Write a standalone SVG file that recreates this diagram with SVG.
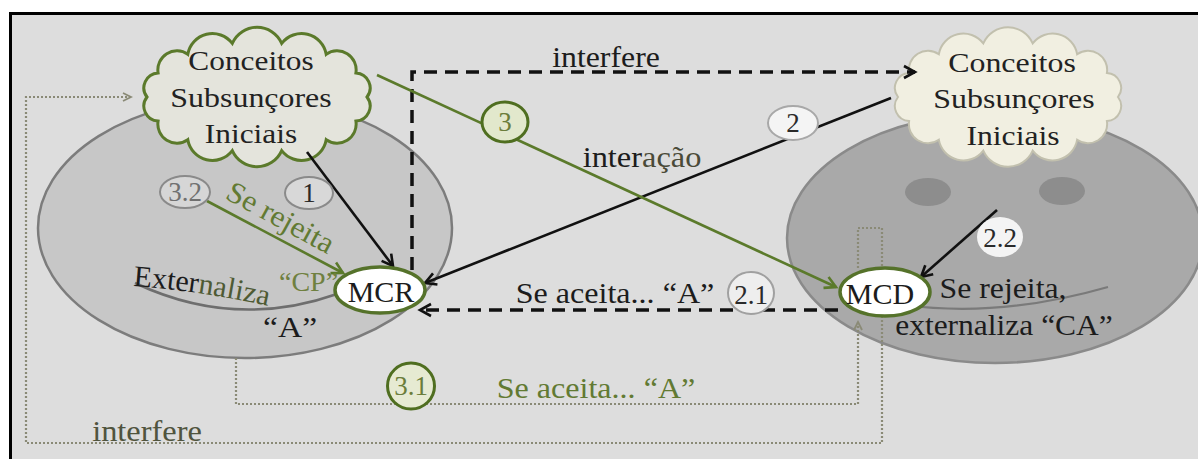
<svg xmlns="http://www.w3.org/2000/svg" width="1198" height="459" viewBox="0 0 1198 459">
<style>
.t { font-size: 30px; fill: #1c1c1c; }
.tc { font-size: 28px; fill: #222222; text-anchor: middle; }
.tg { font-size: 30px; fill: #627a33; }
.tn { font-size: 27px; fill: #2a2a2a; text-anchor: middle; }
.mid { text-anchor: middle; }
.dash { fill: none; stroke: #111111; stroke-width: 3.5; stroke-dasharray: 13 8; }
.solid { fill: none; stroke: #111111; stroke-width: 2.6; }
.green { fill: none; stroke: #5b7a2b; stroke-width: 2.6; }
.dot { fill: none; stroke: #8a8a76; stroke-width: 2.2; stroke-dasharray: 2 2; }
.badge-g { fill: #e2e8cc; stroke: #4f6e20; stroke-width: 3; }
.badge-w { fill: #eeeeee; stroke: #a0a0a0; stroke-width: 2; }
.node { fill: #ffffff; stroke: #55722a; stroke-width: 3.5; }
</style>
<defs>
  <path id="cloud" d="M110,0 A15,15 0 0 1 98.9,24.1 A19,19 0 0 1 69.2,42.7 A25,25 0 0 1 24.7,53.6 A27,27 0 0 1 -24.7,53.6 A25,25 0 0 1 -69.2,42.7 A19,19 0 0 1 -98.9,24.1 A15,15 0 0 1 -110,0 A15,15 0 0 1 -98.9,-24.1 A19,19 0 0 1 -69.2,-42.7 A25,25 0 0 1 -24.7,-53.6 A27,27 0 0 1 24.7,-53.6 A25,25 0 0 1 69.2,-42.7 A19,19 0 0 1 98.9,-24.1 A15,15 0 0 1 110,0 Z"/>
  <marker id="mBlack" markerUnits="userSpaceOnUse" markerWidth="16" markerHeight="16" refX="13" refY="8" orient="auto">
    <path d="M2,2 L13,8 L2,14" fill="none" stroke="#111111" stroke-width="2.6"/>
  </marker>
  <marker id="mGreen" markerUnits="userSpaceOnUse" markerWidth="16" markerHeight="16" refX="13" refY="8" orient="auto">
    <path d="M2,2 L13,8 L2,14" fill="none" stroke="#5b7a2b" stroke-width="2.6"/>
  </marker>
  <marker id="mDot" markerUnits="userSpaceOnUse" markerWidth="12" markerHeight="12" refX="10" refY="6" orient="auto">
    <path d="M2,2 L10,6 L2,10" fill="none" stroke="#8a8a76" stroke-width="1.8"/>
  </marker>
  <path id="extPath" d="M133,286 Q203,291 278,308"/>
</defs>

<rect x="0" y="0" width="1198" height="459" fill="#ffffff"/>
<rect x="10.5" y="13.5" width="1200" height="460" fill="#dddddd" stroke="#000000" stroke-width="3"/>

<g id="ellipse-left">
  <ellipse cx="245" cy="228" rx="207" ry="130" fill="#c7c7c7" stroke="#7c7c7c" stroke-width="2.5"/>
  <path d="M135,283 Q235,330 337,294" fill="none" stroke="#6e6e6e" stroke-width="2.5"/>
</g>

<g id="ellipse-right">
  <ellipse cx="995" cy="238" rx="208" ry="125" fill="#a9a9a9" stroke="#8a8a8a" stroke-width="2.5"/>
  <ellipse cx="928" cy="192" rx="23" ry="14" fill="#8d8d8d"/>
  <ellipse cx="1062" cy="191" rx="23" ry="14" fill="#8d8d8d"/>
  <path d="M905,305 Q1000,318 1108,287" fill="none" stroke="#7a7a7a" stroke-width="2.2"/>
</g>

<g id="connectors-dotted">
  <path class="dot" d="M858,268 V228 H882 V443 H26 V97 H131" marker-end="url(#mDot)"/>
  <path class="dot" d="M236,358 V404 H858 V322" marker-end="url(#mDot)"/>
</g>

<g id="cloud-left">
  <use href="#cloud" transform="translate(257,97)" fill="#e4e4dc" stroke="#5b7a2b" stroke-width="3"/>
  <text font-family="Liberation Serif" class="tc" transform="translate(251,70) scale(1.12,1)">Conceitos</text>
  <text font-family="Liberation Serif" class="tc" transform="translate(251,107) scale(1.14,1)">Subsunçores</text>
  <text font-family="Liberation Serif" class="tc" transform="translate(251,143) scale(1.12,1)">Iniciais</text>
</g>

<g id="cloud-right">
  <use href="#cloud" transform="translate(1008,97)" fill="#f1efe1" stroke="#c2c0ae" stroke-width="2"/>
  <text font-family="Liberation Serif" class="tc" transform="translate(1012,72) scale(1.14,1)">Conceitos</text>
  <text font-family="Liberation Serif" class="tc" transform="translate(1014,108) scale(1.14,1)">Subsunçores</text>
  <text font-family="Liberation Serif" class="tc" transform="translate(1013,145) scale(1.13,1)">Iniciais</text>
</g>

<g id="connectors">
  <path class="dash" d="M412,270 V72 H915" marker-end="url(#mBlack)"/>
  <path class="dash" d="M838,310 H420" marker-end="url(#mBlack)"/>
  <path class="solid" d="M891,98 L425,283" marker-end="url(#mBlack)"/>
  <path class="solid" d="M307,152 L393,266" marker-end="url(#mBlack)"/>
  <path class="solid" d="M997,210 L921,277" marker-end="url(#mBlack)"/>
  <path class="green" d="M377,75 L836,287" marker-end="url(#mGreen)"/>
  <path class="green" d="M207,201 L343,273" marker-end="url(#mGreen)"/>
</g>

<g id="labels">
  <text font-family="Liberation Serif" class="t mid" transform="translate(606,67) scale(1.06,1)">interfere</text>
  <text font-family="Liberation Serif" class="t mid" transform="translate(642,167) scale(1.08,1)">inter<tspan fill="#4a4a38">ação</tspan></text>
  <text font-family="Liberation Serif" class="t mid" transform="translate(615,303) scale(1.07,1)">Se aceita... “A”</text>
  <text font-family="Liberation Serif" class="tg mid" transform="translate(596,398) scale(1.07,1)">Se aceita... “A”</text>
  <text font-family="Liberation Serif" class="t mid" transform="translate(147,441) scale(1.08,1)" style="fill:#50543e">interfere</text>
  <text font-family="Liberation Serif" class="t mid" transform="translate(1003,298) scale(1.06,1)">Se rejeita,</text>
  <text font-family="Liberation Serif" class="t mid" transform="translate(1004,335) scale(1.05,1)">externaliza “CA”</text>
  <text font-family="Liberation Serif" class="tg" transform="translate(224,198) rotate(28.5) scale(1.05,1)">Se rejeita</text>
  <text font-family="Liberation Serif" class="t"><textPath href="#extPath">Exter<tspan fill="#4e5a34">naliza</tspan></textPath></text>
  <text font-family="Liberation Serif" class="tg" x="279" y="291" style="fill:#6f8040;font-size:28px">“CP”</text>
  <text font-family="Liberation Serif" class="t mid" transform="translate(290,337) scale(1.12,1)">“A”</text>
</g>

<g id="badge-1">
  <ellipse cx="309" cy="193" rx="24" ry="16" fill="#d8d8d8" stroke="#8a8a8a" stroke-width="2"/>
  <text font-family="Liberation Serif" class="tn" x="309" y="202">1</text>
</g>
<g id="badge-3-2">
  <ellipse cx="185" cy="192" rx="25" ry="16" fill="#d6d6d6" stroke="#8a8a8a" stroke-width="2"/>
  <text font-family="Liberation Serif" class="tn" x="185" y="201" style="fill:#707070">3.2</text>
</g>
<g id="badge-3">
  <ellipse cx="505" cy="122" rx="23" ry="20" class="badge-g"/>
  <text font-family="Liberation Serif" class="tn" x="505" y="131" style="fill:#6b7d3a">3</text>
</g>
<g id="badge-2">
  <ellipse cx="793" cy="123" rx="25" ry="17" fill="#f4f4f4" stroke="#a8a8a8" stroke-width="2"/>
  <text font-family="Liberation Serif" class="tn" x="793" y="132">2</text>
</g>
<g id="badge-2-1">
  <ellipse cx="751" cy="293" rx="23" ry="21" class="badge-w"/>
  <text font-family="Liberation Serif" class="tn" x="751" y="304">2.1</text>
</g>
<g id="badge-2-2">
  <ellipse cx="1000" cy="237" rx="23" ry="20" fill="#f4f4f4"/>
  <text font-family="Liberation Serif" class="tn" x="1000" y="247">2.2</text>
</g>
<g id="badge-3-1">
  <ellipse cx="411" cy="386" rx="23.5" ry="23" class="badge-g" style="fill:#e6ead2"/>
  <text font-family="Liberation Serif" class="tn" x="411" y="395" style="fill:#6b7d3a">3.1</text>
</g>

<g id="node-MCR">
  <ellipse cx="380" cy="290" rx="45" ry="23" class="node"/>
  <text font-family="Liberation Serif" class="t mid" x="381" y="302">MCR</text>
</g>
<g id="node-MCD">
  <ellipse cx="885" cy="292" rx="45" ry="24" class="node"/>
  <text font-family="Liberation Serif" class="t mid" x="880" y="304">MCD</text>
</g>
</svg>
